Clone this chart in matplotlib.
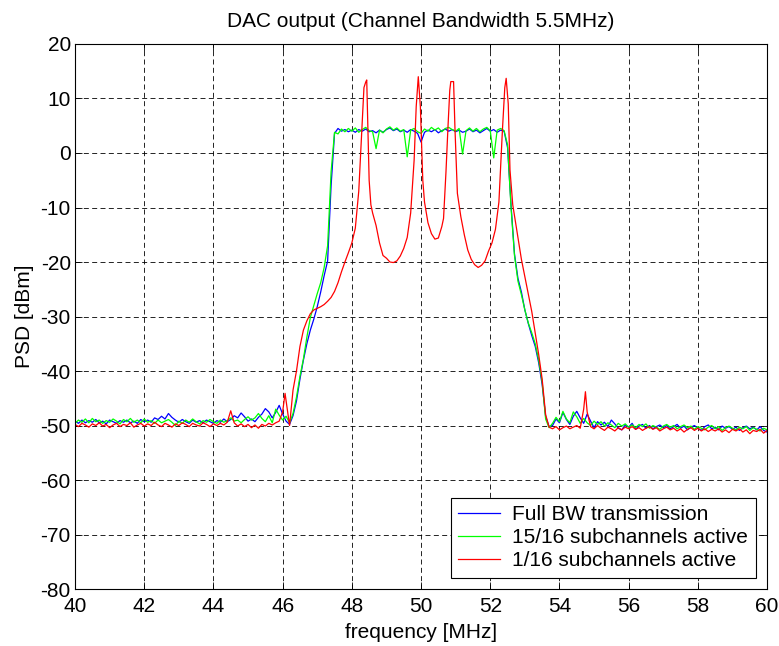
"""DAC output PSD for three subchannel configurations (MATLAB-style plot)."""
import numpy as np
import matplotlib
matplotlib.use("Agg")
import matplotlib.pyplot as plt

plt.rcParams["font.family"] = ["Liberation Sans", "DejaVu Sans"]
plt.rcParams["axes.unicode_minus"] = False  # MATLAB prints a plain hyphen

# common 0.1 MHz grid for the full-BW and 15/16 traces
freq = np.linspace(40.0, 60.0, 201)

full_bw = [
    -49.2, -49.6, -49.0, -49.5, -49.1, -49.4, -48.9, -49.5, -49.2, -49.7,  # 40.0
    -49.0, -49.3, -49.6, -49.1, -49.4, -49.0, -49.5, -49.2, -49.6, -48.9,  # 41.0
    -49.3, -49.0, -49.4, -48.6, -48.9, -48.3, -48.8, -47.8, -48.5, -49.0,  # 42.0
    -49.4, -48.9, -49.3, -49.6, -49.0, -49.4, -49.1, -49.5, -49.0, -49.3,  # 43.0
    -49.6, -49.1, -49.4, -48.8, -49.3, -48.9, -48.2, -48.6, -47.7, -48.4,  # 44.0
    -49.2, -48.8, -49.3, -48.5, -47.9, -46.9, -47.5, -48.6, -47.6, -46.3,  # 45.0
    -47.9, -49.2, -49.8, -48.2, -45.5, -41.5, -38.0, -35.0, -32.5, -30.5,  # 46.0
    -28.2, -25.5, -22.5, -19.8, -6.0, 3.6, 4.5, 4.0, 4.3, 3.9,             # 47.0
    4.2, 3.8, 4.3, 4.0, 4.4, 3.9, 4.1, 3.7, 4.2, 3.8,                      # 48.0
    4.3, 4.6, 4.1, 4.4, 3.9, 4.2, 3.8, 4.3, 4.0, 3.6,                      # 49.0
    2.0, 3.8, 4.2, 3.9, 4.3, 3.7, 4.1, 4.4, 4.0, 4.3,                      # 50.0
    3.9, 4.2, 3.8, 4.0, 4.4, 3.9, 4.2, 3.7, 4.1, 4.5,                      # 51.0
    4.0, 4.3, 3.8, 4.2, 4.0, 1.0, -9.5, -18.5, -23.0, -25.5,               # 52.0
    -28.8, -31.3, -33.5, -35.5, -38.5, -42.5, -48.3, -50.2, -50.0, -48.8,  # 53.0
    -49.5, -47.6, -48.9, -49.8, -48.3, -47.4, -48.6, -49.6, -47.9, -49.2,  # 54.0
    -50.4, -49.3, -49.9, -49.4, -50.2, -49.0, -49.7, -50.5, -50.8, -49.9,  # 55.0
    -50.3, -49.6, -50.7, -50.1, -49.8, -50.5, -50.0, -50.6, -50.2, -49.9,  # 56.0
    -50.4, -50.0, -50.6, -50.2, -49.8, -50.5, -50.1, -50.8, -50.3, -50.0,  # 57.0
    -50.5, -50.9, -50.2, -49.9, -50.6, -50.3, -50.8, -50.1, -50.5, -50.2,  # 58.0
    -50.7, -50.3, -50.9, -50.4, -50.1, -50.6, -50.3, -50.8, -50.2, -50.9,  # 59.0
    -51.2,                                                                 # 60.0
]

sub_15 = [
    -49.6, -49.0, -49.4, -48.8, -49.5, -48.7, -49.3, -49.0, -49.6, -49.1,  # 40.0
    -49.4, -48.8, -49.2, -49.7, -48.9, -49.3, -48.7, -49.4, -49.0, -49.5,  # 41.0
    -48.8, -49.4, -49.1, -49.6, -49.0, -49.5, -49.2, -48.9, -49.4, -50.0,  # 42.0
    -49.2, -49.6, -49.0, -49.4, -48.8, -49.3, -49.7, -49.1, -49.4, -48.9,  # 43.0
    -49.3, -49.6, -49.0, -49.4, -49.1, -48.6, -49.2, -49.0, -49.5, -48.9,  # 44.0
    -48.4, -49.0, -48.6, -47.8, -48.7, -49.3, -48.2, -49.5, -47.0, -48.1,  # 45.0
    -49.0, -48.3, -49.5, -47.8, -44.8, -41.0, -37.8, -33.8, -30.2, -28.0,  # 46.0
    -25.8, -23.8, -21.0, -17.0, -3.5, 3.8, 3.5, 4.4, 3.9, 4.5,             # 47.0
    4.0, 4.6, 3.8, 4.3, 4.7, 4.1, 3.9, 0.8, 4.2, 3.7,                      # 48.0
    4.4, 4.8, 4.2, 4.6, 4.0, 4.3, -0.7, 4.2, 4.5, 3.9,                     # 49.0
    3.6, 4.4, 4.0, 4.7, 4.2, 4.6, 3.9, 4.5, 4.7, 4.3,                      # 50.0
    4.0, 4.5, -0.2, 4.1, 4.6, 4.0, 4.5, 3.9, 4.4, 4.7,                     # 51.0
    4.1, -0.9, 4.2, 4.5, 4.1, 1.5, -10.0, -18.8, -23.5, -26.0,             # 52.0
    -28.8, -31.2, -33.0, -35.0, -38.0, -42.0, -48.8, -50.4, -49.6, -48.5,  # 53.0
    -49.3, -47.4, -48.8, -49.5, -47.5, -48.4, -49.6, -48.7, -49.5, -50.0,  # 54.0
    -49.2, -49.8, -49.3, -50.1, -49.5, -49.9, -50.4, -49.6, -50.1, -49.7,  # 55.0
    -50.3, -49.9, -50.4, -49.8, -50.2, -49.7, -50.5, -50.0, -50.3, -50.7,  # 56.0
    -50.1, -49.8, -50.3, -50.0, -50.6, -50.2, -49.9, -50.4, -50.1, -50.7,  # 57.0
    -50.2, -50.5, -50.8, -50.3, -50.0, -50.6, -50.2, -50.9, -50.4, -50.1,  # 58.0
    -50.5, -50.8, -50.3, -50.6, -50.2, -50.9, -50.4, -50.7, -51.0, -50.5,  # 59.0
    -50.8,                                                                 # 60.0
]

# 1/16 trace: denser sampling around the four narrow peaks
red_freq = [
    40.0, 40.1, 40.2, 40.3, 40.4, 40.5, 40.6, 40.7, 40.8, 40.9,
    41.0, 41.1, 41.2, 41.3, 41.4, 41.5, 41.6, 41.7, 41.8, 41.9,
    42.0, 42.1, 42.2, 42.3, 42.4, 42.5, 42.6, 42.7, 42.8, 42.9,
    43.0, 43.1, 43.2, 43.3, 43.4, 43.5, 43.6, 43.7, 43.8, 43.9,
    44.0, 44.1, 44.2, 44.3, 44.4, 44.5, 44.6, 44.7, 44.8, 44.9,
    45.0, 45.1, 45.2, 45.3, 45.4, 45.5, 45.6, 45.7, 45.8, 45.9,
    46.0, 46.07, 46.2, 46.3, 46.4, 46.5, 46.6, 46.7, 46.8, 46.9,
    47.0, 47.1, 47.2, 47.3, 47.4, 47.5, 47.6, 47.7, 47.8, 47.9,
    48.0, 48.1, 48.2, 48.3, 48.35, 48.4, 48.43, 48.5, 48.55, 48.6,
    48.7, 48.8, 48.9, 49.0, 49.1, 49.2, 49.3, 49.4, 49.5, 49.6,
    49.7, 49.8, 49.86, 49.92, 49.98, 50.05, 50.1, 50.2, 50.3, 50.4,
    50.5, 50.6, 50.65, 50.72, 50.78, 50.83, 50.86, 50.94, 50.98, 51.05,
    51.15, 51.25, 51.35, 51.45, 51.55, 51.65, 51.75, 51.85, 51.95, 52.05,
    52.15, 52.25, 52.35, 52.42, 52.46, 52.52, 52.57, 52.65, 52.72, 52.84,
    52.9, 53.0, 53.1, 53.2, 53.3, 53.4, 53.5, 53.6, 53.7, 53.8,
    53.9, 54.0, 54.1, 54.2, 54.3, 54.4, 54.5, 54.6, 54.7, 54.75,
    54.8, 54.9, 55.0, 55.1, 55.2, 55.3, 55.4, 55.5, 55.6, 55.7,
    55.8, 55.9, 56.0, 56.1, 56.2, 56.3, 56.4, 56.5, 56.6, 56.7,
    56.8, 56.9, 57.0, 57.1, 57.2, 57.3, 57.4, 57.5, 57.6, 57.7,
    57.8, 57.9, 58.0, 58.1, 58.2, 58.3, 58.4, 58.5, 58.6, 58.7,
    58.8, 58.9, 59.0, 59.1, 59.2, 59.3, 59.4, 59.5, 59.6, 59.7,
    59.8, 59.9, 60.0,
]
sub_1 = [
    -49.8, -50.2, -49.6, -49.9, -50.3, -49.7, -50.0, -49.5, -50.1, -49.8,
    -50.4, -49.9, -49.6, -50.2, -49.8, -50.0, -49.5, -50.3, -49.9, -49.6,
    -50.1, -49.7, -50.0, -49.4, -49.9, -50.2, -49.6, -49.9, -50.3, -49.7,
    -50.0, -49.5, -49.8, -50.2, -49.6, -49.9, -50.1, -49.5, -49.8, -50.2,
    -49.7, -50.0, -49.6, -49.9, -49.4, -47.3, -49.5, -50.1, -49.7, -50.2,
    -49.8, -50.4, -49.9, -50.5, -49.8, -50.1, -49.6, -49.9, -49.5, -49.2,
    -47.5, -44.1, -50.0, -43.5, -40.0, -35.5, -32.5, -30.8, -29.5, -28.8,
    -28.5, -28.2, -27.8, -27.2, -26.5, -25.4, -23.8, -21.8, -20.0, -18.3,
    -16.5, -13.8, -7.0, 5.5, 12.0, 13.0, 13.4, -5.0, -9.5, -11.0,
    -13.3, -16.5, -18.8, -19.3, -20.0, -20.1, -19.8, -18.9, -17.5, -15.5,
    -11.0, -1.3, 8.5, 14.0, 8.5, -5.0, -9.0, -12.8, -14.8, -15.8,
    -15.6, -13.5, -12.0, -3.5, 5.0, 11.5, 13.1, 13.1, 4.5, -7.4,
    -11.7, -15.0, -17.8, -19.5, -20.5, -21.0, -20.6, -19.8, -18.0, -16.5,
    -14.0, -9.0, 4.0, 12.0, 13.7, 9.0, -3.1, -9.5, -12.3, -17.2,
    -19.5, -22.7, -26.0, -29.1, -33.0, -37.0, -41.5, -48.0, -50.3, -50.6,
    -50.2, -50.8, -50.4, -50.1, -50.6, -50.3, -50.0, -50.5, -47.0, -43.8,
    -47.5, -50.2, -50.6, -50.0, -50.5, -50.9, -50.3, -50.6, -51.0, -50.4,
    -50.8, -50.3, -50.6, -50.2, -50.7, -50.4, -50.9, -50.5, -50.2, -50.7,
    -50.4, -51.0, -50.6, -50.3, -50.8, -50.5, -51.0, -50.6, -51.2, -50.7,
    -50.4, -50.9, -50.5, -51.0, -50.6, -51.1, -50.7, -51.0, -50.6, -51.2,
    -50.8, -51.3, -50.7, -51.0, -50.6, -51.2, -50.8, -51.5, -50.9, -51.1,
    -50.7, -51.4, -50.9,
]

labels = ["Full BW transmission", "15/16 subchannels active", "1/16 subchannels active"]

fs = 15
fig = plt.figure(figsize=(7.79, 6.46), dpi=100)
ax = fig.add_axes([0.0963, 0.0882, 0.8884, 0.8437])

ax.plot(freq, full_bw, color=(0, 0, 1), lw=0.9, label=labels[0])
ax.plot(freq, sub_15, color=(0, 1, 0), lw=0.9, label=labels[1])
ax.plot(red_freq, sub_1, color=(1, 0, 0), lw=0.9, label=labels[2])

ax.set_xlim(40, 60)
ax.set_ylim(-80, 20)
ax.set_xticks(np.arange(40, 61, 2))
ax.set_yticks(np.arange(-80, 21, 10))
ax.grid(True, color="black", linestyle=(0, (6, 4)), linewidth=0.6)
ax.tick_params(direction="in", top=True, right=True, length=5, width=0.6,
               labelsize=fs)
ax.tick_params(axis="x", pad=6)
ax.tick_params(axis="y", pad=3)
for s in ax.spines.values():
    s.set_linewidth(0.8)

ax.set_title("DAC output (Channel Bandwidth 5.5MHz)", fontsize=fs, pad=12)
ax.set_xlabel("frequency [MHz]", fontsize=fs, labelpad=5)
ax.set_ylabel("PSD [dBm]", fontsize=fs, labelpad=5)

leg = ax.legend(loc="lower right", fontsize=fs, frameon=True, fancybox=False,
                edgecolor="black", framealpha=1, borderaxespad=0.55,
                handlelength=2.0, handletextpad=0.6, borderpad=0.35,
                labelspacing=0.2)
leg.get_frame().set_linewidth(0.8)

fig.savefig("out.png", dpi=100)
